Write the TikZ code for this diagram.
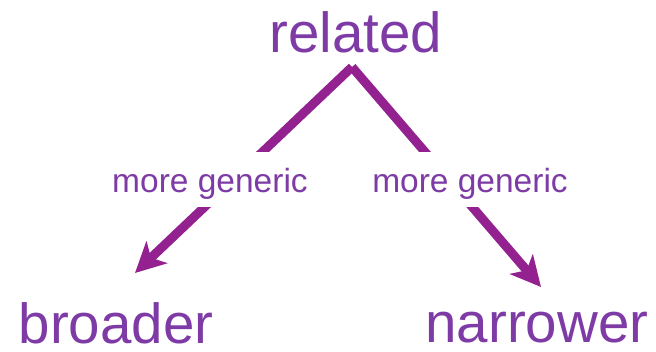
\documentclass[tikz,border=0pt]{standalone}
\usepackage{fontspec}
\setmainfont{Liberation Sans}
\usetikzlibrary{arrows.meta}
\definecolor{txtpurple}{HTML}{7E3BA6}
\definecolor{linepurple}{HTML}{93218F}
\begin{document}
\begin{tikzpicture}[x=1pt,y=-1pt,
  big/.style={text=txtpurple, font=\fontsize{56.5}{60}\selectfont, inner sep=0pt, anchor=base},
  lbl/.style={text=txtpurple, font=\fontsize{33.5}{36}\selectfont, fill=white, inner sep=0pt, text height=41pt, text depth=14pt, anchor=base},
  conn/.style={draw=linepurple, line width=9pt, -{Stealth[length=30pt,width=30pt,inset=8pt]}}]
\useasboundingbox (0,0) rectangle (656,352);
\node[big] (related) at (356,53) {related};
\node[big] (broader) at (116,344) {broader};
\node[big] (narrower) at (537,343) {narrower};
\coordinate (apex) at (352,67);
\coordinate (tipL) at (135,273);
\coordinate (tipR) at (541,287);
\draw[conn] (apex) -- (tipL);
\draw[conn] (apex) -- (tipR);
\node[lbl] (lblL) at (210,193) {more generic};
\node[lbl] (lblR) at (470,193) {more generic};
\end{tikzpicture}
\end{document}
